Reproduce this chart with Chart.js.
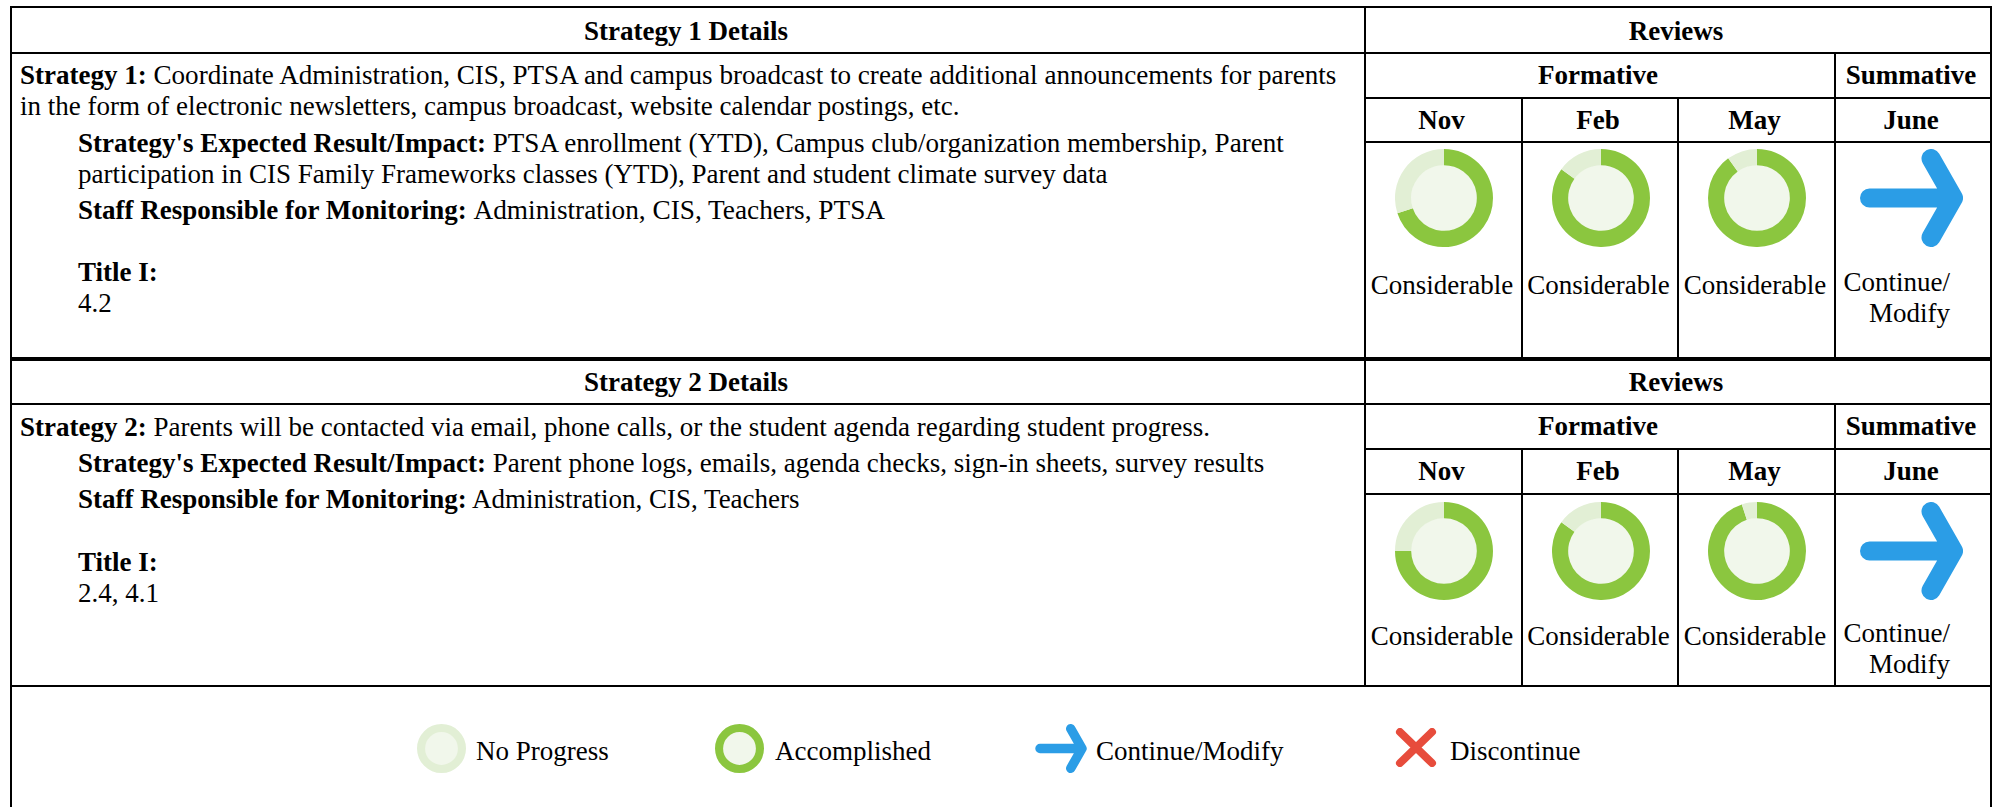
<!DOCTYPE html>
<html>
<head>
<meta charset="utf-8">
<script src="https://cdn.jsdelivr.net/npm/chart.js@4"></script>
<style>
  html, body { margin: 0; padding: 0; background: #fff; width: 1993px; height: 807px; overflow: hidden; }
  body { font-family: "Liberation Serif", serif; font-size: 27px; color: #000; position: relative; }
  table { position: absolute; left: 10px; width: 1980px; table-layout: fixed; border-collapse: collapse; }
  td { border: 2px solid #000; padding: 0 4px 0 0; text-align: center; font-weight: bold; line-height: 31px; }
  td.details { padding: 0; text-align: left; vertical-align: top; font-weight: normal; white-space: nowrap; }
  td.details div { padding-left: 66px; }
  td.details div.first { padding-left: 8px; }
  td.review { padding: 0; position: relative; font-weight: normal; vertical-align: top; }
  .donut { position: absolute; left: 29px; }
  .label { position: absolute; left: 0; right: 3px; }
  .arrow { position: absolute; left: 24px; }
  .continue { position: absolute; right: 40px; text-align: right; white-space: nowrap; }
  .w1 { font-size: 27.1px; }
  .w2 { font-size: 27.3px; }
  #legend { position: absolute; left: 10px; top: 686px; width: 1978px; height: 121px; border-left: 2px solid #000; border-right: 2px solid #000; }
  #legend > * { position: absolute; }
</style>
</head>
<body>
<svg width="0" height="0" style="position:absolute">
  <symbol id="iconArrow" viewBox="0 0 103 98">
    <path d="M9.5 49 H93.5 M71 9.5 L93.5 49 L71 88.5" fill="none" stroke="#2B9DE6" stroke-width="19" stroke-linecap="round" stroke-linejoin="round"/>
  </symbol>
  <symbol id="iconCross" viewBox="0 0 42 39">
    <path d="M5 4 L37 35 M37 4 L5 35" fill="none" stroke="#E74C3C" stroke-width="8" stroke-linecap="round"/>
  </symbol>
</svg>
<div id="tables"></div>
<div id="legend"></div>

<script>
// --- Daten ---
const MONTHS = ['Nov', 'Feb', 'May'];
const SUMMATIVE_MONTH = 'June';
const RESULT_LABEL = 'Considerable';
const SUMMATIVE_LABEL = ['Continue/', 'Modify'];

const PROGRESS_STRATEGY_1 = [70, 85, 90];
const PROGRESS_STRATEGY_2 = [75, 85, 95];

const LEGEND_LABELS = ['No Progress', 'Accomplished', 'Continue/Modify', 'Discontinue'];
const LEGEND_PROGRESS = [0, 100];

const GREEN = '#8BC63F';
const RING_LIGHT = '#E2EFD5';
const CENTER_LIGHT = '#F1F7EB';

// Heller Kreis in der Mitte des Rings
const centerFill = {
  id: 'centerFill',
  beforeDatasetsDraw(chart) {
    const arc = chart.getDatasetMeta(0).data[0];
    const { ctx } = chart;
    ctx.save();
    ctx.fillStyle = CENTER_LIGHT;
    ctx.beginPath();
    ctx.arc(arc.x, arc.y, arc.innerRadius + 0.5, 0, Math.PI * 2);
    ctx.fill();
    ctx.restore();
  },
};

function drawDonut(canvas, done) {
  new Chart(canvas, {
    type: 'doughnut',
    data: {
      labels: ['Done', 'Open'],
      datasets: [{
        data: [done, 100 - done],
        backgroundColor: [GREEN, RING_LIGHT],
        borderWidth: 0,
      }],
    },
    options: {
      responsive: false,
      animation: false,
      cutout: '67%',
      events: [],
      plugins: { legend: { display: false }, tooltip: { enabled: false } },
    },
    plugins: [centerFill],
  });
}

function makeCanvas(size) {
  const canvas = document.createElement('canvas');
  canvas.width = size;
  canvas.height = size;
  canvas.style.width = size + 'px';
  canvas.style.height = size + 'px';
  return canvas;
}

function arrowIcon(w, h) {
  return `<svg width="${w}" height="${h}"><use href="#iconArrow" width="${w}" height="${h}"/></svg>`;
}

// --- Eine Strategie-Tabelle ---
function buildStrategy(cfg) {
  const table = document.createElement('table');
  table.style.top = cfg.top + 'px';
  const monthCells = MONTHS.map(m => `<td>${m}</td>`).join('');
  const reviewCells = MONTHS.map(() => `<td class="review"><div class="label" style="top:${cfg.labelTop}px">${RESULT_LABEL}</div></td>`).join('');
  table.innerHTML = `
    <colgroup><col style="width:1354px"><col style="width:157px"><col style="width:156px"><col style="width:157px"><col style="width:156px"></colgroup>
    <tr style="height:${cfg.rows[0]}px"><td style="padding-top:${cfg.headerNudge}px">${cfg.name} Details</td><td colspan="4" style="padding-top:${cfg.headerNudge}px">Reviews</td></tr>
    <tr style="height:${cfg.rows[1]}px"><td class="details" rowspan="3">${cfg.body}</td><td colspan="3">Formative</td><td>Summative</td></tr>
    <tr style="height:${cfg.rows[2]}px">${monthCells}<td>${SUMMATIVE_MONTH}</td></tr>
    <tr style="height:${cfg.rows[3]}px">${reviewCells}
      <td class="review">
        <div class="arrow" style="top:${cfg.iconTop}px">${arrowIcon(103, 98)}</div>
        <div class="continue" style="top:${cfg.continueTop}px">${SUMMATIVE_LABEL.join('<br>')}</div>
      </td>
    </tr>`;
  document.getElementById('tables').appendChild(table);

  table.querySelectorAll('td.review').forEach((cell, i) => {
    if (i >= cfg.progress.length) return;
    const canvas = makeCanvas(98);
    canvas.className = 'donut';
    canvas.style.top = cfg.iconTop + 'px';
    cell.appendChild(canvas);
    drawDonut(canvas, cfg.progress[i]);
  });
}

buildStrategy({
  name: 'Strategy 1',
  top: 6,
  rows: [46, 45, 44, 216],
  headerNudge: 2,
  iconTop: 6,
  labelTop: 127,
  continueTop: 124,
  progress: PROGRESS_STRATEGY_1,
  body: `<div class="first" style="padding-top:6px"><b>Strategy 1:</b> <span class="w1">Coordinate Administration, CIS, PTSA and campus broadcast to create additional announcements for parents</span><br>in the form of electronic newsletters, campus broadcast, website calendar postings, etc.</div>
    <div style="margin-top:6px"><b>Strategy's Expected Result/Impact:</b> <span class="w1">PTSA enrollment (YTD), Campus club/organization membership, Parent</span><br>participation in CIS Family Frameworks classes (YTD), Parent and student climate survey data</div>
    <div style="margin-top:5px"><b>Staff Responsible for Monitoring:</b> <span class="w2">Administration, CIS, Teachers, PTSA</span></div>
    <div style="margin-top:31px"><b>Title I:</b><br>4.2</div>`,
});

buildStrategy({
  name: 'Strategy 2',
  top: 359,
  rows: [44, 45, 45, 192],
  headerNudge: 0,
  iconTop: 7,
  labelTop: 126,
  continueTop: 123,
  progress: PROGRESS_STRATEGY_2,
  body: `<div class="first" style="padding-top:7px"><b>Strategy 2:</b> Parents will be contacted via email, phone calls, or the student agenda regarding student progress.</div>
    <div style="margin-top:5px"><b>Strategy's Expected Result/Impact:</b> Parent phone logs, emails, agenda checks, sign-in sheets, survey results</div>
    <div style="margin-top:5px"><b>Staff Responsible for Monitoring:</b> Administration, CIS, Teachers</div>
    <div style="margin-top:32px"><b>Title I:</b><br>2.4, 4.1</div>`,
});

// --- Legende ---
const legend = document.getElementById('legend');

function legendText(text, left) {
  const el = document.createElement('div');
  el.textContent = text;
  el.style.left = left + 'px';
  el.style.top = '50px';
  el.style.lineHeight = '31px';
  legend.appendChild(el);
}

LEGEND_PROGRESS.forEach((done, i) => {
  const canvas = makeCanvas(49);
  canvas.style.left = [405, 703][i] + 'px';
  canvas.style.top = '38px';
  legend.appendChild(canvas);
  drawDonut(canvas, done);
});

legend.insertAdjacentHTML('beforeend', `<div style="left:1023px;top:38px">${arrowIcon(52, 49)}</div>`);
legend.insertAdjacentHTML('beforeend', `<div style="left:1383px;top:42px"><svg width="42" height="39"><use href="#iconCross" width="42" height="39"/></svg></div>`);

[464, 763, 1084, 1438].forEach((left, i) => legendText(LEGEND_LABELS[i], left));
</script>
</body>
</html>
